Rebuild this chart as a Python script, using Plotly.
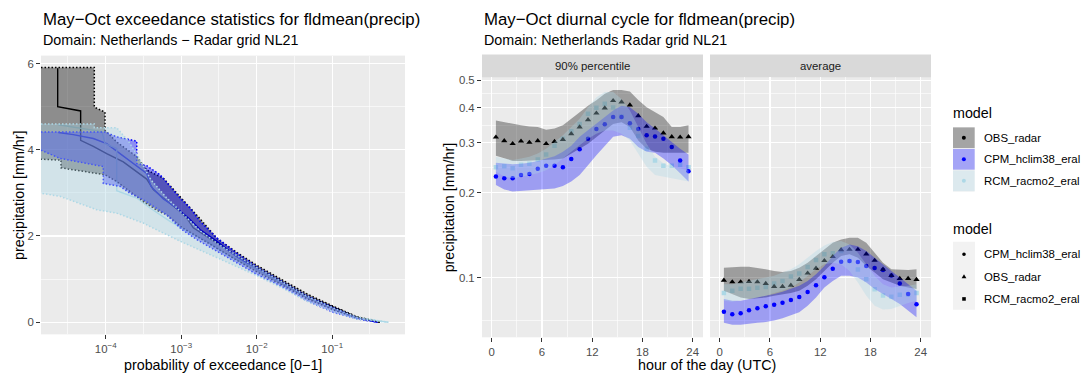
import numpy as np
import plotly.graph_objects as go

W, H = 1085, 378
FONT = "Liberation Sans, Arial, Helvetica, sans-serif"

# ---------------- data ----------------
models = ["OBS_radar", "CPM_hclim38_eral", "RCM_racmo2_eral"]
shape_legend_models = ["CPM_hclim38_eral", "OBS_radar", "RCM_racmo2_eral"]
facets = ["90% percentile", "average"]

# exceedance statistics: log10(probability of exceedance) and precipitation [mm/hr]
obs_line_lp = [-4.636, -4.636, -4.332, -4.332, -4.164, -3.987, -3.767, -3.590, -3.457, -3.413, -3.370,
               -3.237, -3.148, -3.016, -2.927, -2.840, -2.530, -2.265, -2.000, -1.648, -1.338, -0.985, -0.675, -0.367]
obs_line_val = [5.89, 5.00, 4.90, 4.22, 4.08, 3.91, 3.72, 3.49, 3.32, 3.20, 3.08,
                2.88, 2.76, 2.57, 2.42, 2.19, 1.84, 1.54, 1.27, 0.92, 0.61, 0.35, 0.12, 0.00]
cpm_line_lp = [-4.628, -4.430, -4.164, -3.987, -3.810, -3.590, -3.457, -3.400, -3.237, -3.060, -2.883,
               -2.751, -2.530, -2.265, -2.000, -1.648, -1.338, -0.985, -0.675, -0.400]
cpm_line_val = [4.40, 4.35, 4.26, 4.14, 3.91, 3.61, 3.45, 3.15, 2.86, 2.65, 2.38,
                2.15, 1.88, 1.52, 1.24, 0.89, 0.59, 0.32, 0.10, 0.00]
rcm_line_lp = [-4.628, -4.330, -4.050, -4.009, -3.854, -3.854, -3.590, -3.413, -3.148, -2.883, -2.662,
               -2.397, -2.000, -1.648, -1.338, -0.985, -0.675, -0.257]
rcm_line_val = [4.58, 4.50, 4.42, 4.14, 4.03, 3.05, 2.88, 2.65, 2.34, 2.07, 1.88,
                1.57, 1.23, 0.88, 0.58, 0.31, 0.10, 0.00]

obs_hi_lp = [-4.857, -4.151, -4.151, -4.009, -4.009, -3.854, -3.589, -3.457, -3.237, -2.993, -2.751,
             -2.530, -2.265, -2.000, -1.648, -1.338, -0.985, -0.675, -0.367]
obs_hi_val = [5.91, 5.91, 4.99, 4.87, 4.45, 4.18, 3.84, 3.53, 3.34, 2.88, 2.40,
              1.95, 1.62, 1.32, 0.97, 0.66, 0.37, 0.13, 0.00]
obs_lo_lp = [-4.857, -4.592, -4.592, -4.120, -4.009, -3.854, -3.502, -3.325, -3.192, -2.993, -2.751,
             -2.530, -2.265, -2.000, -1.648, -1.338, -0.985, -0.675, -0.367]
obs_lo_val = [3.78, 3.76, 3.58, 3.45, 3.42, 3.26, 2.80, 2.60, 2.49, 2.20, 1.95,
              1.72, 1.44, 1.17, 0.85, 0.55, 0.29, 0.09, 0.00]

cpm_hi_lp = [-4.857, -4.009, -3.854, -3.589, -3.589, -3.457, -3.280, -3.016, -2.883, -2.751,
             -2.530, -2.265, -2.000, -1.648, -1.338, -0.985, -0.675, -0.400]
cpm_hi_val = [4.41, 4.41, 4.30, 4.20, 3.68, 3.63, 3.42, 2.88, 2.65, 2.34,
              1.96, 1.60, 1.29, 0.93, 0.62, 0.34, 0.11, 0.00]
cpm_lo_lp = [-4.857, -4.605, -4.340, -4.032, -4.032, -3.810, -3.678, -3.502, -3.192, -2.993, -2.795,
             -2.530, -2.265, -2.000, -1.648, -1.338, -0.985, -0.675, -0.400]
cpm_lo_val = [3.99, 3.80, 3.72, 3.61, 3.22, 3.15, 2.99, 2.84, 2.49, 2.15, 1.92,
              1.65, 1.38, 1.11, 0.81, 0.50, 0.23, 0.077, 0.00]

rcm_hi_lp = [-4.857, -4.151, -4.151, -3.854, -3.700, -3.589, -3.400, -3.200, -3.000, -2.750,
             -2.500, -2.265, -2.000, -1.648, -1.338, -0.985, -0.675, -0.257]
rcm_hi_val = [4.60, 4.60, 4.51, 4.51, 4.20, 3.90, 3.30, 2.90, 2.55, 2.12,
              1.80, 1.55, 1.27, 0.92, 0.61, 0.33, 0.12, 0.00]
rcm_lo_lp = [-4.857, -4.605, -4.120, -3.854, -3.502, -3.413, -3.016, -2.530, -2.000, -1.648,
             -1.338, -0.985, -0.675, -0.257]
rcm_lo_val = [2.99, 2.92, 2.61, 2.53, 2.30, 2.22, 1.88, 1.50, 1.08, 0.78,
              0.49, 0.24, 0.07, 0.00]

# diurnal cycle
hours = [0.5, 1.5, 2.5, 3.5, 4.5, 5.5, 6.5, 7.5, 8.5, 9.5, 10.5, 11.5,
         12.5, 13.5, 14.5, 15.5, 16.5, 17.5, 18.5, 19.5, 20.5, 21.5, 22.5, 23.5]

obs_p90 = [0.314, 0.305, 0.298, 0.304, 0.301, 0.305, 0.298, 0.303, 0.308, 0.323, 0.341, 0.362,
           0.382, 0.398, 0.423, 0.418, 0.408, 0.374, 0.343, 0.338, 0.325, 0.315, 0.314, 0.315]
cpm_p90 = [0.228, 0.225, 0.225, 0.231, 0.233, 0.243, 0.249, 0.249, 0.246, 0.263, 0.285, 0.310,
           0.336, 0.349, 0.370, 0.370, 0.352, 0.336, 0.319, 0.316, 0.310, 0.290, 0.260, 0.238]
rcm_p90 = [0.246, 0.248, 0.244, 0.251, 0.253, 0.262, 0.273, 0.293, 0.310, 0.330, 0.350, 0.380,
           0.399, 0.412, 0.400, 0.372, 0.339, 0.317, 0.286, 0.260, 0.249, 0.249, 0.251, 0.246]
obs_p90_lo = [0.270, 0.264, 0.259, 0.259, 0.259, 0.261, 0.261, 0.262, 0.264, 0.275, 0.286, 0.298,
              0.315, 0.332, 0.350, 0.355, 0.341, 0.306, 0.286, 0.279, 0.277, 0.277, 0.277, 0.277]
obs_p90_hi = [0.360, 0.355, 0.350, 0.346, 0.343, 0.341, 0.334, 0.337, 0.346, 0.365, 0.385, 0.406,
              0.424, 0.447, 0.461, 0.461, 0.456, 0.425, 0.401, 0.385, 0.370, 0.341, 0.341, 0.346]
cpm_p90_lo = [0.213, 0.205, 0.202, 0.203, 0.204, 0.205, 0.206, 0.207, 0.211, 0.219, 0.231, 0.250,
              0.271, 0.293, 0.315, 0.319, 0.310, 0.290, 0.279, 0.277, 0.264, 0.250, 0.234, 0.219]
cpm_p90_hi = [0.255, 0.253, 0.252, 0.253, 0.255, 0.259, 0.264, 0.269, 0.279, 0.293, 0.315, 0.332,
              0.350, 0.370, 0.390, 0.406, 0.401, 0.380, 0.355, 0.337, 0.319, 0.302, 0.286, 0.273]
rcm_p90_lo = [0.237, 0.228, 0.225, 0.228, 0.231, 0.234, 0.240, 0.250, 0.264, 0.279, 0.293, 0.310,
              0.323, 0.332, 0.332, 0.323, 0.306, 0.275, 0.247, 0.231, 0.228, 0.225, 0.222, 0.219]
rcm_p90_hi = [0.268, 0.264, 0.261, 0.264, 0.268, 0.275, 0.286, 0.302, 0.319, 0.341, 0.365, 0.401,
              0.435, 0.454, 0.454, 0.429, 0.390, 0.341, 0.298, 0.268, 0.254, 0.247, 0.244, 0.240]

obs_avg = [0.0980, 0.0967, 0.0967, 0.0970, 0.0967, 0.0954, 0.0931, 0.0931, 0.0941, 0.0986, 0.1038, 0.1080,
           0.1149, 0.1187, 0.1256, 0.1260, 0.1260, 0.1213, 0.1152, 0.1071, 0.1018, 0.0994, 0.0994, 0.0986]
cpm_avg = [0.0759, 0.0743, 0.0749, 0.0767, 0.0780, 0.0793, 0.0803, 0.0816, 0.0834, 0.0855, 0.0890, 0.0941,
           0.1005, 0.1077, 0.1140, 0.1146, 0.1137, 0.1101, 0.1083, 0.1066, 0.1018, 0.0954, 0.0876, 0.0806]
rcm_avg = [0.0883, 0.0900, 0.0914, 0.0914, 0.0922, 0.0927, 0.0954, 0.0975, 0.1010, 0.1035, 0.1092, 0.1156,
           0.1210, 0.1220, 0.1243, 0.1146, 0.1069, 0.0989, 0.0910, 0.0866, 0.0857, 0.0871, 0.0873, 0.0883]
obs_avg_lo = [0.0900, 0.0876, 0.0852, 0.0841, 0.0845, 0.0852, 0.0864, 0.0876, 0.0883, 0.0900, 0.0937, 0.0989,
              0.1057, 0.1131, 0.1194, 0.1210, 0.1178, 0.1101, 0.1043, 0.0989, 0.0962, 0.0937, 0.0924, 0.0912]
obs_avg_hi = [0.1086, 0.1092, 0.1095, 0.1095, 0.1086, 0.1071, 0.1057, 0.1049, 0.1057, 0.1086, 0.1131, 0.1194,
              0.1260, 0.1330, 0.1366, 0.1384, 0.1384, 0.1330, 0.1226, 0.1131, 0.1071, 0.1066, 0.1066, 0.1071]
cpm_avg_lo = [0.0693, 0.0682, 0.0682, 0.0687, 0.0693, 0.0697, 0.0706, 0.0719, 0.0735, 0.0755, 0.0797, 0.0852,
              0.0924, 0.0975, 0.1016, 0.1016, 0.1002, 0.0962, 0.0912, 0.0876, 0.0841, 0.0808, 0.0765, 0.0725]
cpm_avg_hi = [0.0841, 0.0830, 0.0830, 0.0841, 0.0852, 0.0864, 0.0876, 0.0892, 0.0912, 0.0937, 0.0975, 0.1029,
              0.1101, 0.1194, 0.1277, 0.1312, 0.1294, 0.1243, 0.1178, 0.1116, 0.1057, 0.1002, 0.0949, 0.0900]
rcm_avg_lo = [0.0830, 0.0823, 0.0830, 0.0841, 0.0852, 0.0864, 0.0883, 0.0900, 0.0924, 0.0962, 0.1016, 0.1071,
              0.1116, 0.1131, 0.1116, 0.1057, 0.0962, 0.0864, 0.0797, 0.0772, 0.0776, 0.0797, 0.0814, 0.0830]
rcm_avg_hi = [0.0949, 0.0949, 0.0962, 0.0975, 0.0989, 0.1002, 0.1016, 0.1043, 0.1071, 0.1116, 0.1178, 0.1243,
              0.1301, 0.1337, 0.1348, 0.1312, 0.1226, 0.1116, 0.1016, 0.0949, 0.0924, 0.0931, 0.0937, 0.0949]

exp_ticks = [-4, -3, -2, -1]
hour_ticks = [0, 6, 12, 18, 24]
precip_ticks = [0, 2, 4, 6]
diurnal_ticks = [0.1, 0.2, 0.3, 0.4, 0.5]

# ---------------- styling ----------------
line_col = {"OBS_radar": "#000000", "CPM_hclim38_eral": "#0000FF", "RCM_racmo2_eral": "#ADD8E6"}
rgb = {"OBS_radar": (0, 0, 0), "CPM_hclim38_eral": (0, 0, 255), "RCM_racmo2_eral": (173, 216, 230)}
sym = {"OBS_radar": "triangle-up", "CPM_hclim38_eral": "circle", "RCM_racmo2_eral": "square"}
msize = {"OBS_radar": 5.5, "CPM_hclim38_eral": 4.5, "RCM_racmo2_eral": 4.5}

TITLE_SIZE = 16.8
BASE_SIZE = 14.3
SMALL_SIZE = 11.4


def rgba(m, a):
    r, g, b = rgb[m]
    return f"rgba({r},{g},{b},{a})"


def X(p):
    return p / W


def Y(p):
    return 1 - p / H


fig = go.Figure()

# ---------------- left panel ----------------
lines = {"OBS_radar": (obs_line_lp, obs_line_val),
         "CPM_hclim38_eral": (cpm_line_lp, cpm_line_val),
         "RCM_racmo2_eral": (rcm_line_lp, rcm_line_val)}
ribbons = {"OBS_radar": (obs_hi_lp, obs_hi_val, obs_lo_lp, obs_lo_val),
           "CPM_hclim38_eral": (cpm_hi_lp, cpm_hi_val, cpm_lo_lp, cpm_lo_val),
           "RCM_racmo2_eral": (rcm_hi_lp, rcm_hi_val, rcm_lo_lp, rcm_lo_val)}

for m in models:
    lp, v = lines[m]
    fig.add_trace(go.Scatter(x=np.power(10.0, lp), y=v, mode="lines",
                             line=dict(color=line_col[m], width=1.4),
                             xaxis="x", yaxis="y", showlegend=False, hoverinfo="skip"))
for m in models:
    hlp, hv, llp, lv = ribbons[m]
    xs = list(hlp) + list(llp)[::-1]
    ys = list(hv) + list(lv)[::-1]
    fig.add_trace(go.Scatter(x=np.power(10.0, xs), y=ys, mode="lines", fill="toself",
                             fillcolor=rgba(m, 0.4),
                             line=dict(color=line_col[m], width=1.5, dash="1.5px,2px"),
                             xaxis="x", yaxis="y", showlegend=False, hoverinfo="skip"))

# ---------------- right panels ----------------
diurnal = {
    "90% percentile": {"OBS_radar": (obs_p90, obs_p90_lo, obs_p90_hi),
                       "CPM_hclim38_eral": (cpm_p90, cpm_p90_lo, cpm_p90_hi),
                       "RCM_racmo2_eral": (rcm_p90, rcm_p90_lo, rcm_p90_hi)},
    "average": {"OBS_radar": (obs_avg, obs_avg_lo, obs_avg_hi),
                "CPM_hclim38_eral": (cpm_avg, cpm_avg_lo, cpm_avg_hi),
                "RCM_racmo2_eral": (rcm_avg, rcm_avg_lo, rcm_avg_hi)},
}
for fi, f in enumerate(facets):
    xa, ya = ("x2", "y2") if fi == 0 else ("x3", "y3")
    for m in ["RCM_racmo2_eral", "CPM_hclim38_eral", "OBS_radar"]:
        val, lo, hi = diurnal[f][m]
        fig.add_trace(go.Scatter(x=hours, y=val, mode="markers",
                                 marker=dict(symbol=sym[m], size=msize[m], color=line_col[m],
                                             line=dict(width=0)),
                                 xaxis=xa, yaxis=ya, showlegend=False, hoverinfo="skip"))
    for m in models:
        val, lo, hi = diurnal[f][m]
        fig.add_trace(go.Scatter(x=list(hours) + list(hours)[::-1], y=list(hi) + list(lo)[::-1],
                                 mode="lines", fill="toself", fillcolor=rgba(m, 0.33),
                                 line=dict(width=0, color="rgba(0,0,0,0)"),
                                 xaxis=xa, yaxis=ya, showlegend=False, hoverinfo="skip"))

# ---------------- axes ----------------
tickfont = dict(size=SMALL_SIZE, color="#4D4D4D", family=FONT)
common = dict(showline=False, zeroline=False, showgrid=True, gridcolor="white", gridwidth=1.2,
              ticks="outside", ticklen=4, tickwidth=1, tickcolor="#333333", tickfont=tickfont,
              fixedrange=True)
minor_common = dict(showgrid=True, gridcolor="white", gridwidth=0.6, ticks="")

fig.update_layout(
    xaxis=dict(common, type="log", domain=[X(41), X(405)], range=[-4.857, -0.036], anchor="y",
               tickmode="array", tickvals=[10.0 ** e for e in exp_ticks],
               ticktext=[f"10<sup>\u2212{-e}</sup>" for e in exp_ticks],
               minor=dict(minor_common, tickmode="array",
                          tickvals=[10.0 ** (e - 0.5) for e in exp_ticks] + [10.0 ** -0.5])),
    yaxis=dict(common, domain=[Y(334), Y(53)], range=[-0.281, 6.184], anchor="x",
               tickmode="array", tickvals=precip_ticks, ticktext=[str(t) for t in precip_ticks],
               minor=dict(minor_common, tickmode="array", tickvals=[1, 3, 5])),
    xaxis2=dict(common, domain=[X(482), X(703)], range=[-1.16, 25.23], anchor="y2",
                tickmode="array", tickvals=hour_ticks, ticktext=[str(t) for t in hour_ticks],
                minor=dict(minor_common, tickmode="array", tickvals=[3, 9, 15, 21])),
    yaxis2=dict(common, type="log", domain=[Y(337), Y(75)], range=[-1.2105, -0.2915], anchor="x2",
                tickmode="array", tickvals=diurnal_ticks, ticktext=[str(t) for t in diurnal_ticks],
                minor=dict(minor_common, tickmode="array",
                           tickvals=[0.0707, 0.1414, 0.2449, 0.3464, 0.4472])),
    xaxis3=dict(common, domain=[X(710), X(931)], range=[-1.16, 25.23], anchor="y3",
                tickmode="array", tickvals=hour_ticks, ticktext=[str(t) for t in hour_ticks],
                minor=dict(minor_common, tickmode="array", tickvals=[3, 9, 15, 21])),
    yaxis3=dict(common, type="log", domain=[Y(337), Y(75)], range=[-1.2105, -0.2915], anchor="x3",
                tickmode="array", tickvals=diurnal_ticks, showticklabels=False, ticks="",
                minor=dict(minor_common, tickmode="array",
                           tickvals=[0.0707, 0.1414, 0.2449, 0.3464, 0.4472])),
)

# ---------------- shapes & annotations ----------------
shapes = []
annotations = []


def text(x, y, s, size, color="#000000", xanchor="left", angle=0):
    annotations.append(dict(x=X(x), y=Y(y), xref="paper", yref="paper", text=s, showarrow=False,
                            xanchor=xanchor, yanchor="middle", textangle=angle,
                            font=dict(size=size, color=color, family=FONT)))


# titles
text(41, 16.5, "May\u2212Oct exceedance statistics for fldmean(precip)", TITLE_SIZE)
text(41, 37.5, "Domain: Netherlands \u2212 Radar grid NL21", BASE_SIZE)
text(482, 16.5, "May\u2212Oct diurnal cycle for fldmean(precip)", TITLE_SIZE)
text(482, 37.5, "Domain: Netherlands Radar grid NL21", BASE_SIZE)

# axis titles
text(223, 365, "probability of exceedance [0\u22121]", BASE_SIZE, xanchor="center")
text(706.5, 365, "hour of the day (UTC)", BASE_SIZE, xanchor="center")
text(19, 193.5, "precipitation [mm/hr]", BASE_SIZE, xanchor="center", angle=-90)
text(449, 206, "precipitation [mm/hr]", BASE_SIZE, xanchor="center", angle=-90)

# strips
for (x0, x1), f in zip([(482, 703), (710, 931)], facets):
    shapes.append(dict(type="rect", xref="paper", yref="paper", x0=X(x0), x1=X(x1), y0=Y(75), y1=Y(52),
                       fillcolor="#D9D9D9", line=dict(width=0), layer="below"))
    text((x0 + x1) / 2, 63.5, f, SMALL_SIZE, color="#1A1A1A", xanchor="center")

# legend 1 (fill + colour)
text(951, 111, "model", BASE_SIZE)
key_x0, key_x1 = 953, 974.7
for i, m in enumerate(models):
    y0 = 125 + i * 21.7
    y1 = y0 + 21.7
    shapes.append(dict(type="rect", xref="paper", yref="paper", x0=X(key_x0), x1=X(key_x1),
                       y0=Y(y1), y1=Y(y0), fillcolor="#F2F2F2", line=dict(width=0), layer="above"))
    shapes.append(dict(type="rect", xref="paper", yref="paper", x0=X(key_x0), x1=X(key_x1),
                       y0=Y(y1 - 0.4), y1=Y(y0 + 0.4), fillcolor=rgba(m, 0.32), line=dict(width=0),
                       layer="above"))
    cx, cy = (key_x0 + key_x1) / 2, (y0 + y1) / 2
    shapes.append(dict(type="circle", xref="paper", yref="paper", x0=X(cx - 2), x1=X(cx + 2),
                       y0=Y(cy + 2), y1=Y(cy - 2), fillcolor=line_col[m], line=dict(width=0),
                       layer="above"))
    text(981.7, cy, m, SMALL_SIZE)

# legend 2 (shape)
text(951, 228, "model", BASE_SIZE)
shapes.append(dict(type="rect", xref="paper", yref="paper", x0=X(953), x1=X(975), y0=Y(309.3), y1=Y(240.7),
                   fillcolor="#F2F2F2", line=dict(width=0), layer="above"))
centers = [253.3, 275.7, 298.3]
cx = 964
for m, cy in zip(shape_legend_models, centers):
    if sym[m] == "circle":
        shapes.append(dict(type="circle", xref="paper", yref="paper", x0=X(cx - 1.8), x1=X(cx + 1.8),
                           y0=Y(cy + 1.8), y1=Y(cy - 1.8), fillcolor="black", line=dict(width=0),
                           layer="above"))
    elif sym[m] == "triangle-up":
        path = (f"M {X(cx - 2.4)} {Y(cy + 1.8)} L {X(cx + 2.4)} {Y(cy + 1.8)} "
                f"L {X(cx)} {Y(cy - 2.4)} Z")
        shapes.append(dict(type="path", xref="paper", yref="paper", path=path, fillcolor="black",
                           line=dict(width=0), layer="above"))
    else:
        shapes.append(dict(type="rect", xref="paper", yref="paper", x0=X(cx - 1.8), x1=X(cx + 1.8),
                           y0=Y(cy + 1.8), y1=Y(cy - 1.8), fillcolor="black", line=dict(width=0),
                           layer="above"))
    text(981.7, cy, m, SMALL_SIZE)

fig.update_layout(
    width=W, height=H, autosize=False,
    margin=dict(l=0, r=0, t=0, b=0, pad=0),
    paper_bgcolor="white", plot_bgcolor="#EBEBEB",
    font=dict(family=FONT, color="#000000"),
    showlegend=False,
    shapes=shapes, annotations=annotations,
)

fig.write_html("out.html",
               config={"displayModeBar": False, "staticPlot": True},
               post_script="document.body.style.margin='0px';document.body.style.padding='0px';")
